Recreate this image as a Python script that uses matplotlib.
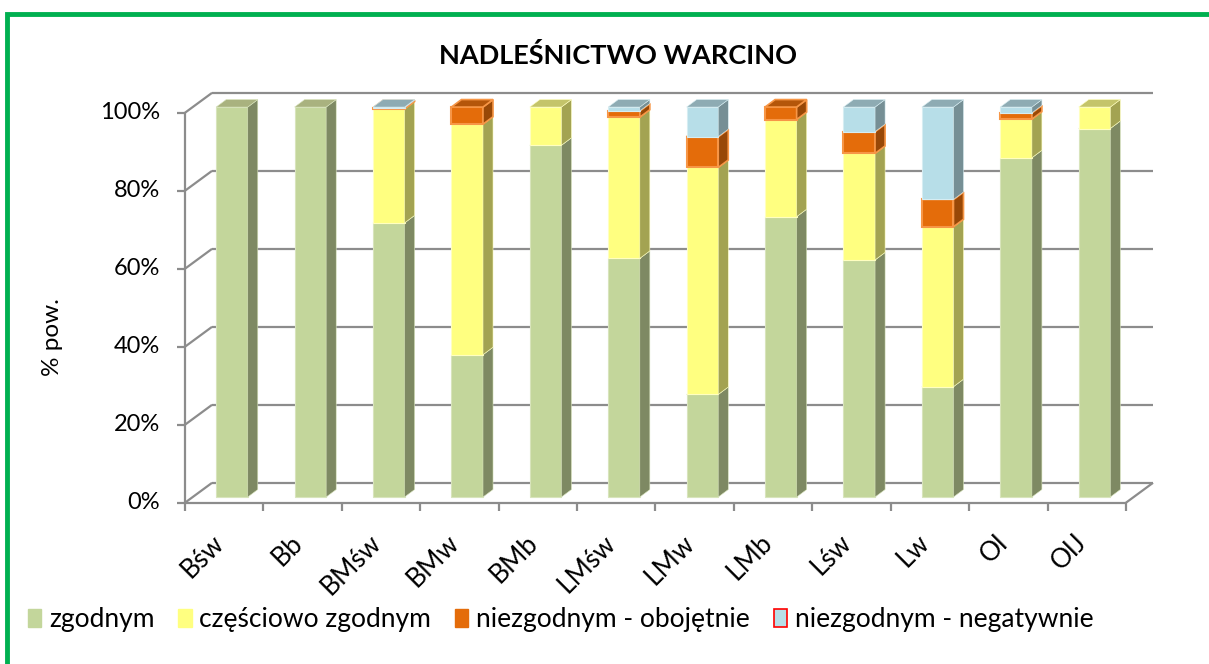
import numpy as np
import matplotlib.pyplot as plt
from matplotlib.patches import Polygon, Rectangle, Patch

categories = ['Bśw', 'Bb', 'BMśw', 'BMw', 'BMb', 'LMśw', 'LMw', 'LMb', 'Lśw', 'Lw', 'Ol', 'OlJ']
zgodnym = [100, 100, 70.3, 36.5, 90.2, 61.2, 26.3, 71.9, 60.8, 28.3, 87.0, 94.5]
czesciowo = [0, 0, 29.2, 59.1, 9.8, 36.2, 58.2, 24.9, 27.3, 41.0, 9.9, 5.5]
obojetnie = [0, 0, 0.3, 4.4, 0, 1.6, 7.9, 3.2, 5.6, 7.0, 1.6, 0]
negatywnie = [0, 0, 0.2, 0, 0, 1.0, 7.6, 0, 6.3, 23.7, 1.5, 0]

labels = ['zgodnym', 'częściowo zgodnym', 'niezgodnym - obojętnie', 'niezgodnym - negatywnie']
# front, side, top, edge
styles = [
    ('#c3d69b', '#7e8963', '#a9b27f', '#d8e4bc'),
    ('#ffff80', '#a3a352', '#c4c46a', '#ffffc0'),
    ('#e46c0a', '#984807', '#b4560a', '#f79646'),
    ('#b7dee8', '#768f95', '#8eabb3', '#d6edf2'),
]

plt.rcParams['font.family'] = ['Lato', 'DejaVu Sans']

fig = plt.figure(figsize=(12.09, 6.64), dpi=100)
ax = fig.add_axes([0.153, 0.2429, 0.7783, 0.5873])
ax.set_xlim(0, 12)
ax.set_ylim(0, 100)
ax.axis('off')

# pseudo 3d: depth of the back wall and of the bars (data units)
wall_dx, wall_dy = 0.345, 5.1
bar_off_x, bar_off_y = 0.099, 1.46
bar_dx, bar_dy = 0.128, 1.92
bar_w = 0.403
n = len(categories)

grid_kw = dict(color='#8c8c8c', lw=1.6, clip_on=False, zorder=1, solid_capstyle='butt')
for p in range(0, 101, 20):
    ax.plot([0, wall_dx], [p, p + wall_dy], **grid_kw)
    ax.plot([wall_dx, n + wall_dx], [p + wall_dy, p + wall_dy], **grid_kw)
    ax.plot([-0.1, 0], [p, p], **grid_kw)
    ax.text(-0.32, p, f'{p}%', ha='right', va='center', fontsize=17)
ax.plot([0, 0], [0, 100], **grid_kw)
ax.plot([0, n], [0, 0], **grid_kw)
ax.plot([n, n + wall_dx], [0, wall_dy], **grid_kw)
for i in range(n + 1):
    ax.plot([i, i], [0, -2.2], **grid_kw)

for i, cat in enumerate(categories):
    ax.text(i + 0.56, -7, cat, rotation=45, ha='right', va='top', fontsize=19)

x = np.arange(n) + 0.5 + bar_off_x
bottom = np.full(n, bar_off_y)
for k, vals in enumerate([zgodnym, czesciowo, obojetnie, negatywnie]):
    front, side, top, edge = styles[k]
    vals = np.array(vals, dtype=float)
    z = 3 + 3 * k
    m = vals > 0
    ax.bar(x[m], vals[m], width=bar_w, bottom=bottom[m], color=front,
           edgecolor=edge, linewidth=1.5 if k == 2 else 0.8, zorder=z, clip_on=False)
    for j in np.where(m)[0]:
        xl, xr = x[j] - bar_w / 2, x[j] + bar_w / 2
        y0, y1 = bottom[j], bottom[j] + vals[j]
        ax.add_patch(Polygon([(xr, y0), (xr + bar_dx, y0 + bar_dy), (xr + bar_dx, y1 + bar_dy), (xr, y1)],
                             closed=True, facecolor=side, edgecolor=edge,
                             lw=1.2 if k == 2 else 0.4, zorder=z + 1, clip_on=False))
        ax.add_patch(Polygon([(xl, y1), (xr, y1), (xr + bar_dx, y1 + bar_dy), (xl + bar_dx, y1 + bar_dy)],
                             closed=True, facecolor=top, edgecolor=edge,
                             lw=1.2 if k == 2 else 0.4, zorder=z + 1, clip_on=False))
    bottom = bottom + vals

fig.text(618 / 1209, 1 - 55 / 664, 'NADLEŚNICTWO WARCINO', ha='center', va='center',
         fontsize=19.5, fontweight='bold')
fig.text(52 / 1209, 1 - 337 / 664, '% pow.', rotation=90, ha='center', va='center', fontsize=17.5)

handles = [Patch(facecolor=s[0], edgecolor=s[0]) for s in styles[:3]]
handles.append(Patch(facecolor=styles[3][0], edgecolor='red', linewidth=1.2))
fig.legend(handles, labels, loc='center left', bbox_to_anchor=(28 / 1209, 1 - 620 / 664),
           ncol=4, frameon=False, fontsize=19, handlelength=0.5, handleheight=0.65,
           handletextpad=0.3, columnspacing=0.9, borderaxespad=0, borderpad=0)

# green frame around the chart
fig.add_artist(Rectangle((0.07, -0.5), 13, 7.0, transform=fig.dpi_scale_trans,
                         fill=False, edgecolor='#00b050', linewidth=3.5))

fig.savefig('out.png', dpi=100)
